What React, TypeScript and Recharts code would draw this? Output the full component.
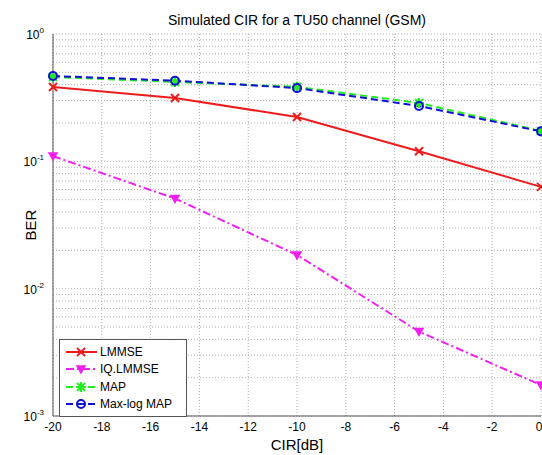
import React from 'react';
import { LineChart, Line, XAxis, YAxis, CartesianGrid } from 'recharts';

const cir = [-20, -15, -10, -5, 0];
const lmmse = [0.384, 0.314, 0.223, 0.12, 0.063];
const iqLmmse = [0.11, 0.051, 0.0184, 0.0046, 0.00175];
const map = [0.46, 0.42, 0.385, 0.287, 0.173];
const maxLogMap = [0.468, 0.43, 0.376, 0.272, 0.172];

const xTicks = [-20, -18, -16, -14, -12, -10, -8, -6, -4, -2, 0];
const yTicks = [
  0.001, 0.002, 0.003, 0.004, 0.005, 0.006, 0.007, 0.008, 0.009,
  0.01, 0.02, 0.03, 0.04, 0.05, 0.06, 0.07, 0.08, 0.09,
  0.1, 0.2, 0.3, 0.4, 0.5, 0.6, 0.7, 0.8, 0.9, 1,
];
const decades = [0.001, 0.01, 0.1, 1];

const data = cir.map((c, i) => ({
  cir: c,
  LMMSE: lmmse[i],
  'IQ.LMMSE': iqLmmse[i],
  MAP: map[i],
  'Max-log MAP': maxLogMap[i],
}));

const RED = '#ee1c1c';
const MAGENTA = '#f020f0';
const GREEN = '#22ee22';
const BLUE = '#1010d8';
const FONT = '"Liberation Sans", Arial, sans-serif';

type MarkerKind = 'x' | 'tri' | 'star' | 'circle';

const Marker = ({ kind, cx, cy, color }: { kind: MarkerKind; cx: number; cy: number; color: string }) => {
  if (kind === 'x') {
    return (
      <g stroke={color} strokeWidth={2}>
        <line x1={cx - 4} y1={cy - 4} x2={cx + 4} y2={cy + 4} />
        <line x1={cx - 4} y1={cy + 4} x2={cx + 4} y2={cy - 4} />
      </g>
    );
  }
  if (kind === 'tri') {
    return (
      <polygon
        points={`${cx - 4},${cy - 3} ${cx + 4},${cy - 3} ${cx},${cy + 4}`}
        fill={color}
        stroke={color}
        strokeWidth={1.5}
      />
    );
  }
  if (kind === 'star') {
    return (
      <g stroke={color} strokeWidth={2}>
        <line x1={cx - 5} y1={cy} x2={cx + 5} y2={cy} />
        <line x1={cx} y1={cy - 5} x2={cx} y2={cy + 5} />
        <line x1={cx - 4} y1={cy - 4} x2={cx + 4} y2={cy + 4} />
        <line x1={cx - 4} y1={cy + 4} x2={cx + 4} y2={cy - 4} />
      </g>
    );
  }
  return <circle cx={cx} cy={cy} r={4} fill="none" stroke={color} strokeWidth={2} />;
};

const series: { key: string; color: string; dash?: string; kind: MarkerKind }[] = [
  { key: 'LMMSE', color: RED, kind: 'x' },
  { key: 'IQ.LMMSE', color: MAGENTA, dash: '8 3 2 3', kind: 'tri' },
  { key: 'MAP', color: GREEN, dash: '7 4', kind: 'star' },
  { key: 'Max-log MAP', color: BLUE, dash: '7 4', kind: 'circle' },
];

const YTick = (props: any) => {
  const { x, y, payload } = props;
  const v = payload.value;
  if (!decades.some((d) => Math.abs(d - v) < 1e-9)) return <g />;
  const exp = Math.round(Math.log10(v));
  return (
    <text x={x + 1} y={y + 5} textAnchor="end" fontSize={12} fontFamily={FONT} fill="#000">
      <tspan>10</tspan>
      <tspan dy={-6} fontSize={8}>{exp}</tspan>
    </text>
  );
};

const LegendBox = () => (
  <div
    style={{
      position: 'absolute',
      left: 59,
      top: 339,
      border: '1px solid #555',
      background: '#fff',
      width: 128,
      padding: '3px 0',
      fontFamily: FONT,
      fontSize: 12,
      boxSizing: 'border-box',
    }}
  >
    {series.map((s) => (
      <div key={s.key} style={{ display: 'flex', alignItems: 'center', height: 17.5 }}>
        <svg width={40} height={14} style={{ flex: 'none' }}>
          <line x1={6} y1={7} x2={37} y2={7} stroke={s.color} strokeWidth={2} strokeDasharray={s.dash} />
          <Marker kind={s.kind} cx={21} cy={7} color={s.color} />
        </svg>
        <span style={{ color: '#000' }}>{s.key}</span>
      </div>
    ))}
  </div>
);

export default function App() {
  return (
    <div style={{ position: 'absolute', left: 0, top: 0, width: 542, height: 455, background: '#fff' }}>
      <div
        style={{
          position: 'absolute',
          left: 53,
          width: 488,
          top: 12,
          textAlign: 'center',
          fontFamily: FONT,
          fontSize: 14,
        }}
      >
        Simulated CIR for a TU50 channel (GSM)
      </div>
      <div
        style={{
          position: 'absolute',
          left: 53,
          width: 488,
          top: 436,
          textAlign: 'center',
          fontFamily: FONT,
          fontSize: 15,
          lineHeight: '17px',
        }}
      >
        CIR[dB]
      </div>
      <div
        style={{
          position: 'absolute',
          left: 30,
          top: 225,
          transform: 'translate(-50%, -50%) rotate(-90deg)',
          fontFamily: FONT,
          fontSize: 15,
        }}
      >
        BER
      </div>
      <LineChart width={542} height={455} data={data} margin={{ top: 34, right: 1, left: 0, bottom: 0 }}>
        <CartesianGrid stroke="#b0b0b0" strokeDasharray="1 2" />
        <XAxis
          dataKey="cir"
          type="number"
          domain={[-20, 0]}
          ticks={xTicks}
          height={39}
          tickLine={false}
          axisLine={{ stroke: '#555' }}
          tick={{ fontSize: 12, fill: '#000', fontFamily: FONT }}
          tickMargin={0}
        />
        <XAxis xAxisId="top" orientation="top" type="number" domain={[-20, 0]} height={0} tick={false} tickLine={false} axisLine={{ stroke: '#555' }} />
        <YAxis
          scale="log"
          type="number"
          domain={[0.001, 1]}
          allowDataOverflow
          ticks={yTicks}
          interval={0}
          width={53}
          tickLine={false}
          axisLine={{ stroke: '#555' }}
          tick={<YTick />}
          tickMargin={4}
        />
        <YAxis yAxisId="right" orientation="right" type="number" domain={[0, 1]} width={0} tick={false} tickLine={false} axisLine={{ stroke: '#555' }} />
        {series.map((s) => (
          <Line
            key={s.key}
            dataKey={s.key}
            stroke={s.color}
            strokeWidth={2}
            strokeDasharray={s.dash}
            type="linear"
            isAnimationActive={false}
            dot={(p: any) => <Marker key={`${s.key}-${p.index}`} kind={s.kind} cx={p.cx} cy={p.cy} color={s.color} />}
          />
        ))}
      </LineChart>
      <LegendBox />
    </div>
  );
}
